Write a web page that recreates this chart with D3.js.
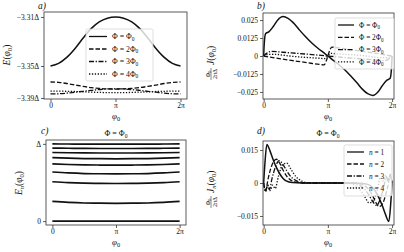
<!DOCTYPE html>
<html>
<head>
<meta charset="utf-8">
<script src="https://cdn.jsdelivr.net/npm/d3@7"></script>
<style>
body { margin: 0; background: #fff; }
text { font-family: "Liberation Serif", "DejaVu Serif", serif; fill: #111; }
</style>
</head>
<body>
<div id="chart"></div>
<script>
// phase values are given in units of pi
const PI = Math.PI;

// a) ground state energy vs phase, one curve per flux
const phiA = [0, 0.125, 0.25, 0.375, 0.5, 0.625, 0.75, 0.875, 1, 1.125, 1.25, 1.375, 1.5, 1.625, 1.75, 1.875, 2];
const energyA1 = [-3.3584, -3.3558, -3.3499, -3.3413, -3.3311, -3.3215, -3.3148, -3.3112, -3.310, -3.3112, -3.3148, -3.3215, -3.3311, -3.3413, -3.3499, -3.3558, -3.3584];
const energyA2 = [-3.3742, -3.3746, -3.3757, -3.3772, -3.3785, -3.3797, -3.3805, -3.381, -3.3812, -3.381, -3.3805, -3.3797, -3.3785, -3.3772, -3.3757, -3.3746, -3.3742];
const energyA3 = [-3.386, -3.3858, -3.3852, -3.3843, -3.3834, -3.3825, -3.3817, -3.3811, -3.3809, -3.3811, -3.3817, -3.3825, -3.3834, -3.3843, -3.3852, -3.3858, -3.386];
const energyA4 = [-3.3832, -3.3832, -3.3834, -3.3836, -3.3839, -3.3842, -3.3845, -3.3847, -3.3848, -3.3847, -3.3845, -3.3842, -3.3839, -3.3836, -3.3834, -3.3832, -3.3832];
const aYTicks = [-3.39, -3.3584, -3.31];
const aYLabels = ["\u22123.39\u0394", "\u22123.35\u0394", "\u22123.31\u0394"];
const fluxLabels = ["", "2", "3", "4"];

// b) current vs phase
const phiB1 = [0, 0.01, 0.03, 0.08, 0.15, 0.22, 0.3, 0.38, 0.46, 0.55, 0.65, 0.75, 0.85, 0.93, 1, 1.07, 1.15, 1.25, 1.35, 1.45, 1.54, 1.62, 1.7, 1.78, 1.85, 1.92, 1.97, 1.99, 2];
const currentB1 = [0, 0.009, 0.0155, 0.0168, 0.0205, 0.025, 0.0274, 0.0262, 0.0232, 0.0185, 0.0135, 0.009, 0.0052, 0.0025, 0, -0.0025, -0.0052, -0.009, -0.0135, -0.0185, -0.0232, -0.0262, -0.0274, -0.025, -0.0205, -0.0168, -0.0155, -0.009, 0];
const phiB2 = [0, 0.1, 0.3, 0.5, 0.7, 0.9, 0.94, 0.97, 1, 1.03, 1.06, 1.1, 1.3, 1.5, 1.7, 1.9, 2];
const currentB2 = [0, -0.0008, -0.0022, -0.0035, -0.0048, -0.006, -0.0062, -0.004, 0, 0.004, 0.0062, 0.006, 0.0048, 0.0035, 0.0022, 0.0008, 0];
const phiB3 = [0, 0.05, 0.12, 0.3, 0.5, 0.7, 0.9, 1, 1.1, 1.3, 1.5, 1.7, 1.88, 1.95, 2];
const currentB3 = [0, 0.002, 0.0032, 0.0026, 0.0019, 0.0012, 0.0004, 0, -0.0004, -0.0012, -0.0019, -0.0026, -0.0032, -0.002, 0];
const phiB4 = [0, 0.05, 0.15, 0.4, 0.6, 0.85, 0.95, 1, 1.05, 1.15, 1.4, 1.6, 1.85, 1.95, 2];
const currentB4 = [0, 0.001, 0.0012, 0, -0.0008, -0.0015, -0.0018, 0, 0.0018, 0.0015, 0.0008, 0, -0.0012, -0.001, 0];
const bYTicks = [-0.025, -0.0125, 0, 0.0125, 0.025];
const bYLabels = ["\u22120.025", "\u22120.0125", "0", "0.0125", "0.025"];

// c) Andreev levels, normalised so that Delta = 1
const phiC = [0, 0.25, 0.5, 0.75, 1, 1.25, 1.5, 1.75, 2];
const levelsC = [
  [0, 0, 0, 0, 0, 0, 0, 0, 0],
  [0.255, 0.243, 0.235, 0.232, 0.231, 0.232, 0.235, 0.243, 0.255],
  [0.51, 0.498, 0.491, 0.488, 0.487, 0.488, 0.491, 0.498, 0.51],
  [0.636, 0.624, 0.616, 0.613, 0.612, 0.613, 0.616, 0.624, 0.636],
  [0.74, 0.733, 0.728, 0.726, 0.725, 0.726, 0.728, 0.733, 0.74],
  [0.823, 0.815, 0.81, 0.808, 0.807, 0.808, 0.81, 0.815, 0.823],
  [0.888, 0.885, 0.883, 0.882, 0.882, 0.882, 0.883, 0.885, 0.888],
  [0.945, 0.943, 0.941, 0.94, 0.94, 0.94, 0.941, 0.943, 0.945],
  [0.999, 0.998, 0.997, 0.997, 0.997, 0.997, 0.997, 0.998, 0.999]
];
const cYTicks = [0, 1];
const cYLabels = ["0", "\u0394"];

// d) current carried by each level
const phiD1 = [0, 0.02, 0.05, 0.1, 0.15, 0.2, 0.25, 0.3, 0.35, 0.45, 0.6, 1.4, 1.55, 1.65, 1.7, 1.75, 1.8, 1.85, 1.9, 1.95, 1.98, 2];
const currentD1 = [0, 0.009, 0.0175, 0.0145, 0.0105, 0.007, 0.0042, 0.0022, 0.001, 0.0002, 0, 0, -0.0002, -0.001, -0.0022, -0.0042, -0.007, -0.0105, -0.0145, -0.0175, -0.009, 0];
const phiD2 = [0, 0.03, 0.07, 0.1, 0.15, 0.2, 0.25, 0.3, 0.35, 0.4, 0.5, 0.6, 1.4, 1.5, 1.6, 1.65, 1.7, 1.75, 1.8, 1.85, 1.9, 1.93, 1.97, 2];
const currentD2 = [0, -0.0035, 0.002, 0.0055, 0.0095, 0.0108, 0.009, 0.006, 0.0035, 0.0018, 0.0004, 0, 0, -0.0004, -0.0018, -0.0035, -0.006, -0.009, -0.0108, -0.0095, -0.0055, -0.002, 0.0035, 0];
const phiD3 = [0, 0.03, 0.06, 0.09, 0.13, 0.18, 0.24, 0.3, 0.36, 0.42, 0.5, 0.6, 0.7, 1.3, 1.4, 1.5, 1.58, 1.64, 1.7, 1.76, 1.82, 1.87, 1.91, 1.94, 1.97, 2];
const currentD3 = [0, -0.004, -0.001, -0.003, 0.002, 0.007, 0.0102, 0.0085, 0.0055, 0.003, 0.0012, 0.0002, 0, 0, -0.0002, -0.0012, -0.003, -0.0055, -0.0085, -0.0102, -0.007, -0.002, 0.003, 0.001, 0.004, 0];
const phiD4 = [0, 0.03, 0.07, 0.1, 0.14, 0.18, 0.23, 0.3, 0.36, 0.42, 0.5, 0.6, 0.7, 1.3, 1.4, 1.5, 1.58, 1.64, 1.7, 1.77, 1.82, 1.86, 1.9, 1.93, 1.97, 2];
const currentD4 = [0, -0.003, -0.001, -0.0035, -0.001, -0.0025, 0.003, 0.0085, 0.009, 0.0065, 0.003, 0.0008, 0, 0, -0.0008, -0.003, -0.0065, -0.009, -0.0085, -0.003, 0.0025, 0.001, 0.0035, 0.001, 0.003, 0];
const dYTicks = [-0.015, 0, 0.015];
const dYLabels = ["\u22120.015", "0", "0.015"];
const levelLabels = ["1", "2", "3", "4"];

const xTickVals = [0, PI, 2 * PI];
const xTickLabels = ["0", "\u03c0", "2\u03c0"];

const dashes = [null, "4.5,2", "5,1.6,1.3,1.6", "1.3,1.6"];

let width = 404;
let height = 252;

let svg = d3.select("#chart").append("svg")
  .attr("width", width)
  .attr("height", height);

function makeAxes(box, xDom, yDom, yTicks, yTickLabels) {
  let x = d3.scaleLinear().domain(xDom).range([box.l, box.r]);
  let y = d3.scaleLinear().domain(yDom).range([box.b, box.t]);

  let gx = svg.append("g")
    .attr("transform", "translate(0," + box.b + ")")
    .call(d3.axisBottom(x).tickValues(xTickVals).tickFormat((d, i) => xTickLabels[i]).tickSize(3).tickPadding(0.5));
  let gy = svg.append("g")
    .attr("transform", "translate(" + box.l + ",0)")
    .call(d3.axisLeft(y).tickValues(yTicks).tickFormat((d, i) => yTickLabels[i]).tickSize(3).tickPadding(2));
  [gx, gy].forEach(g => {
    g.attr("font-size", 7.5).attr("font-family", null);
    g.select(".domain").remove();
    g.selectAll("line").attr("stroke", "#333").attr("stroke-width", 0.8);
  });
  return { x: x, y: y };
}

function frame(box) {
  svg.append("rect")
    .attr("x", box.l).attr("y", box.t)
    .attr("width", box.r - box.l).attr("height", box.b - box.t)
    .attr("fill", "none").attr("stroke", "#333").attr("stroke-width", 0.8);
}

function drawCurve(sc, phis, vals, dash, lw) {
  let line = d3.line()
    .x((d, i) => sc.x(phis[i] * PI))
    .y(d => sc.y(d))
    .curve(d3.curveMonotoneX);
  svg.append("path")
    .datum(vals)
    .attr("d", line)
    .attr("fill", "none")
    .attr("stroke", "#111")
    .attr("stroke-width", lw || 1.3)
    .attr("stroke-dasharray", dash);
}

// text with a subscript; parts are [text, isSub, isItalic]
function richText(g, x, y, parts, size, anchor) {
  let t = g.append("text")
    .attr("x", x).attr("y", y)
    .attr("font-size", size)
    .attr("text-anchor", anchor || "start");
  parts.forEach(p => {
    let s = t.append("tspan").text(p[0]);
    if (p[2]) s.attr("font-style", "italic");
    if (p[1]) s.attr("font-size", size * 0.7).attr("dy", size * 0.22);
    else s.attr("dy", 0);
  });
  // reset baseline after subscripts
  t.selectAll("tspan").each(function (d, i) {
    if (i > 0 && parts[i - 1][1] && !parts[i][1]) d3.select(this).attr("dy", -size * 0.22);
  });
  return t;
}

function legend(box, rows) {
  let g = svg.append("g");
  g.append("rect")
    .attr("x", box.x).attr("y", box.y)
    .attr("width", box.w).attr("height", box.h)
    .attr("rx", 1.5)
    .attr("fill", "#fff").attr("fill-opacity", 0.8)
    .attr("stroke", "#d0d0d0").attr("stroke-width", 0.7);
  rows.forEach((r, i) => {
    let yy = box.y + box.r0 + i * box.step;
    g.append("line")
      .attr("x1", box.x + 3).attr("x2", box.x + 3 + box.len)
      .attr("y1", yy).attr("y2", yy)
      .attr("stroke", "#111").attr("stroke-width", 1.3)
      .attr("stroke-dasharray", dashes[i]);
    richText(g, box.x + box.len + 8, yy + 2.6, r, box.fs);
  });
}

function fluxRow(k) {
  return [["\u03a6 = " + k + "\u03a6", false, false], ["0", true, false]];
}

function xLabel(cx, cy) {
  richText(svg, cx, cy, [["\u03c6", false, true], ["0", true, false]], 9, "middle");
}

function panelLabel(x, y, s) {
  svg.append("text").attr("x", x).attr("y", y).attr("font-size", 9.5).attr("font-style", "italic").text(s);
}

// ---------- a) ----------
let boxA = { l: 44, r: 187, t: 12, b: 99 };
let scA = makeAxes(boxA, [-0.1 * PI, 2.1 * PI], [-3.391, -3.3051], aYTicks, aYLabels);
drawCurve(scA, phiA, energyA1, dashes[0], 1.5);
drawCurve(scA, phiA, energyA2, dashes[1]);
drawCurve(scA, phiA, energyA3, dashes[2]);
drawCurve(scA, phiA, energyA4, dashes[3]);
frame(boxA);
legend({ x: 86, y: 29, w: 67, h: 52, r0: 7.5, step: 12.5, len: 18, fs: 7.8 }, fluxLabels.map(fluxRow));
panelLabel(38, 9, "a)");
xLabel(116, 119);
let ga = svg.append("g").attr("transform", "translate(10,55) rotate(-90)");
richText(ga, 0, 0, [["E", false, true], ["(", false, false], ["\u03c6", false, true], ["0", true, false], [")", false, false]], 9.5, "middle");

// ---------- b) ----------
let boxB = { l: 263, r: 394, t: 13, b: 99 };
let scB = makeAxes(boxB, [-0.01 * PI, 2.03 * PI], [-0.0299, 0.0299], bYTicks, bYLabels);
drawCurve(scB, phiB1, currentB1, dashes[0], 1.5);
drawCurve(scB, phiB2, currentB2, dashes[1]);
drawCurve(scB, phiB3, currentB3, dashes[2]);
drawCurve(scB, phiB4, currentB4, dashes[3]);
frame(boxB);
legend({ x: 335, y: 18, w: 59, h: 51, r0: 7, step: 12.3, len: 16, fs: 7.3 }, fluxLabels.map(fluxRow));
panelLabel(257, 9, "b)");
xLabel(328, 119);

function fracLabel(cx, cy, sub) {
  let g = svg.append("g").attr("transform", "translate(" + cx + "," + cy + ") rotate(-90)");
  // fraction Phi0 / (2 pi Delta)
  richText(g, -12, -1.5, [["\u03a6", false, false], ["0", true, false]], 6, "middle");
  g.append("line").attr("x1", -18).attr("x2", -6).attr("y1", 0).attr("y2", 0).attr("stroke", "#111").attr("stroke-width", 0.5);
  g.append("text").attr("x", -12).attr("y", 5.5).attr("font-size", 6).attr("text-anchor", "middle").text("2\u03c0\u0394");
  let parts = [["J", false, true]];
  if (sub) parts.push(["n", true, true]);
  parts.push(["(", false, false], ["\u03c6", false, true], ["0", true, false], [")", false, false]);
  richText(g, -3, 3, parts, 9.5, "start");
}
fracLabel(211, 62, false);

// ---------- c) ----------
let boxC = { l: 46, r: 186, t: 140, b: 225 };
let scC = makeAxes(boxC, [-0.1 * PI, 2.1 * PI], [-0.05, 1.05], cYTicks, cYLabels);
levelsC.forEach(lv => drawCurve(scC, phiC, lv, null, 1.7));
frame(boxC);
panelLabel(41, 134, "c)");
richText(svg, 116, 136, [["\u03a6 = \u03a6", false, false], ["0", true, false]], 8, "middle");
xLabel(116, 245);
let gc = svg.append("g").attr("transform", "translate(22,183) rotate(-90)");
richText(gc, 0, 0, [["E", false, true], ["n", true, true], ["(", false, false], ["\u03c6", false, true], ["0", true, false], [")", false, false]], 9.5, "middle");

// ---------- d) ----------
let boxD = { l: 263, r: 394, t: 141, b: 225 };
let scD = makeAxes(boxD, [-0.01 * PI, 2.03 * PI], [-0.0191, 0.0191], dYTicks, dYLabels);
drawCurve(scD, phiD1, currentD1, dashes[0], 1.5);
drawCurve(scD, phiD2, currentD2, dashes[1]);
drawCurve(scD, phiD3, currentD3, dashes[2]);
drawCurve(scD, phiD4, currentD4, dashes[3]);
frame(boxD);
legend({ x: 344, y: 145, w: 48, h: 51, r0: 7, step: 12, len: 17, fs: 7.3 },
  levelLabels.map(n => [["n", false, true], [" = " + n, false, false]]));
panelLabel(257, 134, "d)");
richText(svg, 328, 136, [["\u03a6 = \u03a6", false, false], ["0", true, false]], 8, "middle");
xLabel(328, 245);
fracLabel(211, 190, true);
</script>
</body>
</html>
